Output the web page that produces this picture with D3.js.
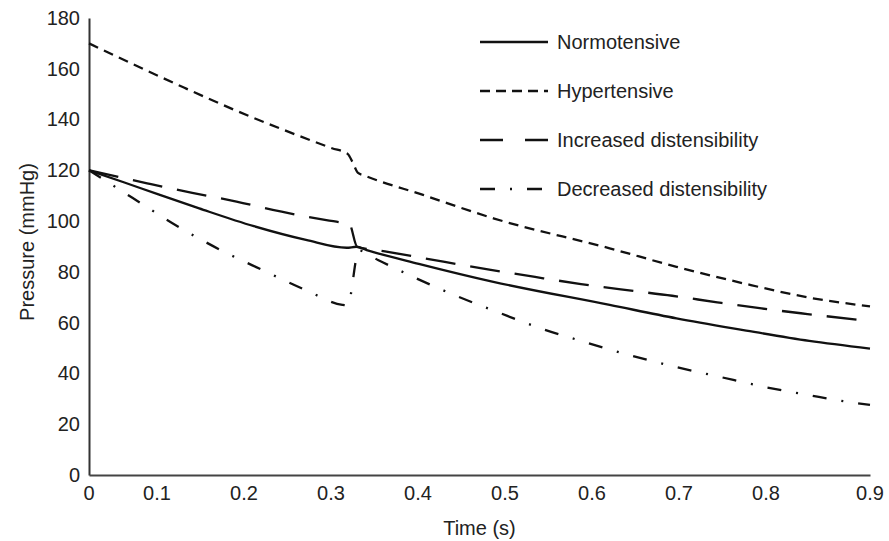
<!DOCTYPE html>
<html>
<head>
<meta charset="utf-8">
<script src="https://cdn.jsdelivr.net/npm/d3@7"></script>
<style>
  body { margin: 0; background: #fff; }
  text { font-family: Arial, "Liberation Sans", sans-serif; fill: #222; }
</style>
</head>
<body>
<div id="chart"></div>
<script>
// Chart size
const width = 889;
const height = 541;

// Data: [time (s), pressure (mmHg)]
const normotensive = [
  [0, 120], [0.04, 115.3], [0.08, 110.5], [0.127, 105.0], [0.19, 98.0],
  [0.25, 92.6], [0.297, 89.5], [0.308, 89.9], [0.32, 88.6], [0.38, 83.2],
  [0.466, 76.1], [0.6, 67.0], [0.677, 61.7], [0.754, 57.1], [0.83, 52.8], [0.9, 49.8]
];
const hypertensive = [
  [0, 170], [0.11, 152.5], [0.167, 143.9], [0.223, 136.1], [0.28, 128.7],
  [0.298, 126.5], [0.304, 123], [0.31, 119], [0.317, 118], [0.385, 110.3],
  [0.466, 101.1], [0.6, 89.3], [0.677, 82.0], [0.754, 75.5], [0.831, 69.8], [0.9, 66.4]
];
const increasedDist = [
  [0, 120], [0.067, 114.9], [0.119, 111.1], [0.17, 107.7], [0.222, 103.7],
  [0.2735, 100.4], [0.292, 99.4], [0.3, 98.9], [0.309, 89.9], [0.341, 88.1],
  [0.41, 83.9], [0.463, 80.8], [0.514, 78.0], [0.567, 75.2], [0.62, 72.8],
  [0.672, 70.6], [0.724, 68.0], [0.775, 65.6], [0.828, 63.4], [0.9, 60.6]
];
const decreasedDist = [
  [0, 120], [0.05, 109.2], [0.1, 98.4], [0.15, 88.9], [0.2, 80.7], [0.25, 72.8],
  [0.292, 67.0], [0.298, 66.8], [0.311, 88.4], [0.333, 84.7], [0.375, 77.8],
  [0.423, 70.6], [0.472, 64.0], [0.521, 57.7], [0.571, 52.4], [0.623, 47.2],
  [0.673, 42.8], [0.725, 38.8], [0.777, 34.8], [0.829, 31.5], [0.88, 28.5], [0.9, 27.6]
];

const seriesNames = ["Normotensive", "Hypertensive", "Increased distensibility", "Decreased distensibility"];
const seriesData = [normotensive, hypertensive, increasedDist, decreasedDist];

// Tick labels
const xTickLabels = ["0", "0.1", "0.2", "0.3", "0.4", "0.5", "0.6", "0.7", "0.8", "0.9"];
const yTicks = [0, 20, 40, 60, 80, 100, 120, 140, 160, 180];

// Line styles per series (plot, legend)
const dashes = [null, "10,6.5", "30,15", "14,15,2,15"];
const legendDashes = [null, "10,6", "23,22", "15,15,2,15"];

const svg = d3.select("#chart")
  .append("svg")
  .attr("width", width)
  .attr("height", height);

// Scales
const x = d3.scaleLinear().domain([0, 0.9]).range([89, 870]);
const y = d3.scaleLinear().domain([0, 180]).range([475, 18]);

// tick labels sit evenly, end labels pinned to the axis ends
const xLabelScale = d3.scalePoint().domain(xTickLabels).range([x(0) - 19, x(0.9) - 17]);
const labelX = (d, i) => i === 0 ? x(0) : i === xTickLabels.length - 1 ? x(0.9) : xLabelScale(d);

// Y axis
const yAxis = svg.append("g")
  .attr("transform", `translate(${x(0)},0)`)
  .call(d3.axisLeft(y).tickValues(yTicks).tickSize(0).tickPadding(9));
yAxis.select(".domain").attr("stroke", "#333").attr("stroke-width", 2);
yAxis.selectAll("text").style("font-size", "20px").attr("fill", "#222");

// X axis line
const xAxis = svg.append("g")
  .attr("transform", `translate(0,${y(0)})`)
  .call(d3.axisBottom(x).tickValues([]).tickSizeOuter(0));
xAxis.select(".domain").attr("stroke", "#444").attr("stroke-width", 2);

svg.selectAll(".xlabel")
  .data(xTickLabels)
  .enter()
  .append("text")
  .attr("class", "xlabel")
  .attr("x", labelX)
  .attr("y", 493)
  .attr("dy", "0.35em")
  .attr("text-anchor", "middle")
  .style("font-size", "20px")
  .text(d => d);

// Axis titles
svg.append("text")
  .attr("x", (x(0) + x(0.9)) / 2)
  .attr("y", 528)
  .attr("dy", "0.35em")
  .attr("text-anchor", "middle")
  .style("font-size", "20px")
  .text("Time (s)");

svg.append("text")
  .attr("transform", `translate(27,242) rotate(-90)`)
  .attr("dy", "0.35em")
  .attr("text-anchor", "middle")
  .style("font-size", "20px")
  .text("Pressure (mmHg)");

// Lines
const line = d3.line()
  .x(d => x(d[0]))
  .y(d => y(d[1]))
  .curve(d3.curveMonotoneX);

svg.selectAll(".series")
  .data(seriesData)
  .enter()
  .append("path")
  .attr("class", "series")
  .attr("d", line)
  .attr("fill", "none")
  .attr("stroke", "#111")
  .attr("stroke-width", 2.3)
  .attr("stroke-dasharray", (d, i) => dashes[i]);

// Legend
const legendY = d3.scalePoint().domain(seriesNames).range([42, 189]);
const legend = svg.selectAll(".legend")
  .data(seriesNames)
  .enter()
  .append("g")
  .attr("class", "legend")
  .attr("transform", d => `translate(480,${legendY(d)})`);

legend.append("line")
  .attr("x1", 0)
  .attr("x2", 68)
  .attr("stroke", "#111")
  .attr("stroke-width", 2.3)
  .attr("stroke-dasharray", (d, i) => legendDashes[i]);

legend.append("text")
  .attr("x", 77)
  .attr("dy", "0.35em")
  .style("font-size", "20px")
  .text(d => d);
</script>
</body>
</html>
